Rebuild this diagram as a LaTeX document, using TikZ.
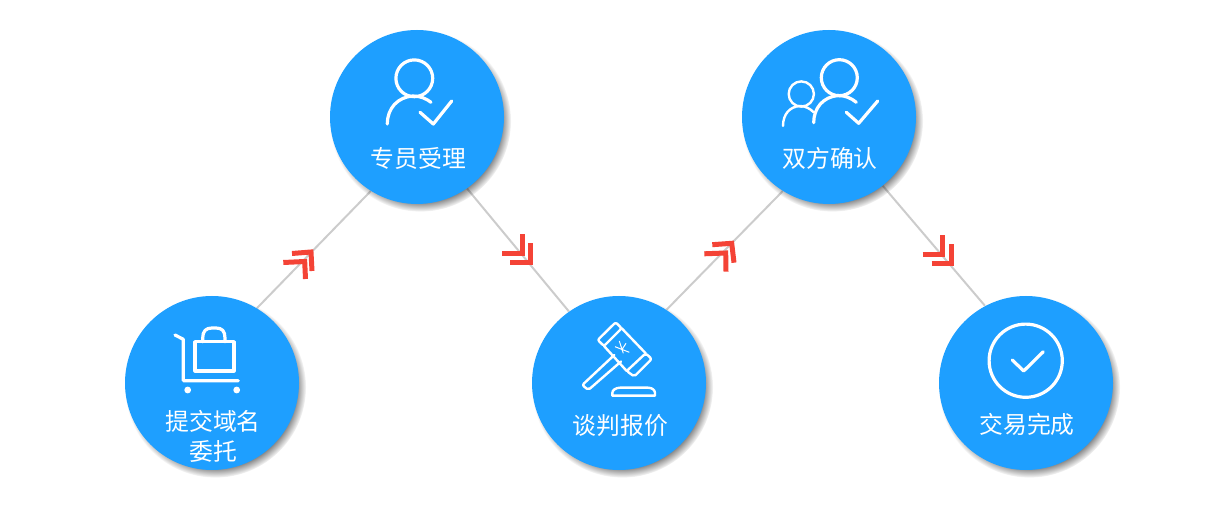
\documentclass[tikz,border=0pt]{standalone}
\usepackage{fontspec}
\setmainfont{Noto Sans CJK SC}
\usetikzlibrary{shadows,backgrounds}
\definecolor{stepblue}{HTML}{1E9FFF}
\definecolor{arrowred}{HTML}{F44336}
\definecolor{linkgray}{HTML}{CCCCCC}
\tikzset{
	stepnode/.style = {
		shape=circle,
		fill=stepblue,
		inner sep=0pt,
		minimum size=87pt,
		circular drop shadow={shadow xshift=1.7pt, shadow yshift=-2pt, shadow scale=1.04, fill=black, opacity=.65}
	},
	steptext/.style = {
		text=white,
		inner sep=0pt,
		font=\fontsize{11.9pt}{15pt}\selectfont,
		align=center
	},
	link/.style = {
		draw=linkgray,
		line width=1pt
	},
	chevron/.style = {
		draw=arrowred,
		line width=2.5pt,
		miter limit=10
	},
	icon/.style = {
		draw=white,
		line width=1.6pt,
		line cap=round,
		line join=round
	},
	thinicon/.style = {
		icon,
		line width=1.2pt
	}
}

\begin{document}
\begin{tikzpicture}[x=.5pt,y=-.5pt]
	\useasboundingbox (0,0) rectangle (1231,507);

	\node[stepnode] (submit) at (212,383) {};
	\node[stepnode] (accept) at (417,117) {};
	\node[stepnode] (talk) at (619,383) {};
	\node[stepnode] (confirm) at (829,117) {};
	\node[stepnode] (finish) at (1026,383) {};

	\begin{scope}[on background layer]
		\draw[link] (submit.59) -- (accept.238);
		\draw[link] (accept.-55) -- (talk.125);
		\draw[link] (talk.57) -- (confirm.238);
		\draw[link] (confirm.-52) -- (finish.118);
	\end{scope}

	\node[steptext] (submittext) at (213,436) {提交域名\\委托};
	\node[steptext] (accepttext) at (418.5,158) {专员受理};
	\node[steptext] (talktext) at (620.5,425.5) {谈判报价};
	\node[steptext] (confirmtext) at (830,158) {双方确认};
	\node[steptext] (finishtext) at (1027,424.5) {交易完成};

	% arrows
	\draw[chevron] (292,253.5) -- (311,252) -- (312,271);
	\draw[chevron] (283.3,262.5) -- (304.7,261.5) -- (305.5,279);
	\draw[chevron] (502,253.3) -- (522,253.3) -- (522,234);
	\draw[chevron] (510,262.3) -- (530,262.3) -- (530,243);
	\draw[chevron] (712.3,244.7) -- (731.7,243.3) -- (734,262.7);
	\draw[chevron] (704.3,253.8) -- (725.7,253) -- (726,271.7);
	\draw[chevron] (922.7,254.5) -- (942.7,254.5) -- (942.7,235);
	\draw[chevron] (931.7,263.3) -- (951,263.3) -- (951,244);

	% cart
	\draw[icon] (175,335) -- (183.3,339.3) -- (183.3,380.7) -- (238.3,380.7);
	\draw[icon] (195,341.7) rectangle (234,371);
	\draw[icon] (202.7,341.7) -- (202.7,338) .. controls (202.7,331) and (206,328) .. (212,328) -- (216,328) .. controls (222,328) and (225,331) .. (225,338) -- (225,341.7);
	\fill[white] (187.7,390) circle (1.7pt);
	\fill[white] (236.7,390) circle (1.7pt);

	% person
	\draw[icon] (414.3,78.3) circle (9.2pt);
	\draw[icon] (387.3,124) .. controls (387.3,108) and (398,97) .. (413,96) .. controls (420,96) and (426,98.5) .. (431,102.3);
	\draw[icon] (420,112.3) -- (433.3,124) -- (451.7,101);

	% gavel
	\begin{scope}[rounded corners=1pt]
		\draw[thinicon] (597.7,340) -- (615.7,322.3) -- (621.7,328.3) -- (604,346) -- cycle;
		\draw[thinicon] (626.7,371) -- (645.7,353.3) -- (651.7,359) -- (634.3,376.5) -- cycle;
		\draw[thinicon] (614.3,355) -- (582.3,385) -- (588.3,390) -- (621,361.5);
	\end{scope}
	\draw[thinicon] (604,346) -- (626.7,371);
	\draw[thinicon] (621.7,328.3) -- (645.7,353.3);
	\draw[thinicon] (612.3,395.7) -- (612.3,393) .. controls (612.3,390) and (616,387.7) .. (620,387.7) -- (648,387.7) .. controls (652,387.7) and (655,390) .. (655,393) -- (655,395.7) -- cycle;
	\draw[white,line width=.5pt] (619.3,341) -- (623.3,353.3);
	\draw[white,line width=.5pt] (615,346.7) -- (629.3,352.3);
	\draw[white,line width=.5pt] (626,343.3) -- (621.7,350);

	% two persons
	\draw[icon] (839.3,77.7) circle (9pt);
	\draw[icon] (813.7,122.7) .. controls (813.7,108) and (823,97) .. (838,95.5) .. controls (845,95.5) and (851,98) .. (856.3,102.3);
	\draw[icon] (846.3,112.3) -- (858.7,123.3) -- (877.7,101);
	\draw[thinicon] (801.3,94) circle (6.3pt);
	\draw[thinicon] (783,126) .. controls (783,114) and (790,106.5) .. (800,106) .. controls (805,106) and (810,108.5) .. (813.7,112.3);

	% done
	\draw[icon] (1025.7,360.7) circle (18.3pt);
	\draw[icon] (1012.3,360) -- (1023.7,371) -- (1043.3,351.7);
\end{tikzpicture}
\end{document}
